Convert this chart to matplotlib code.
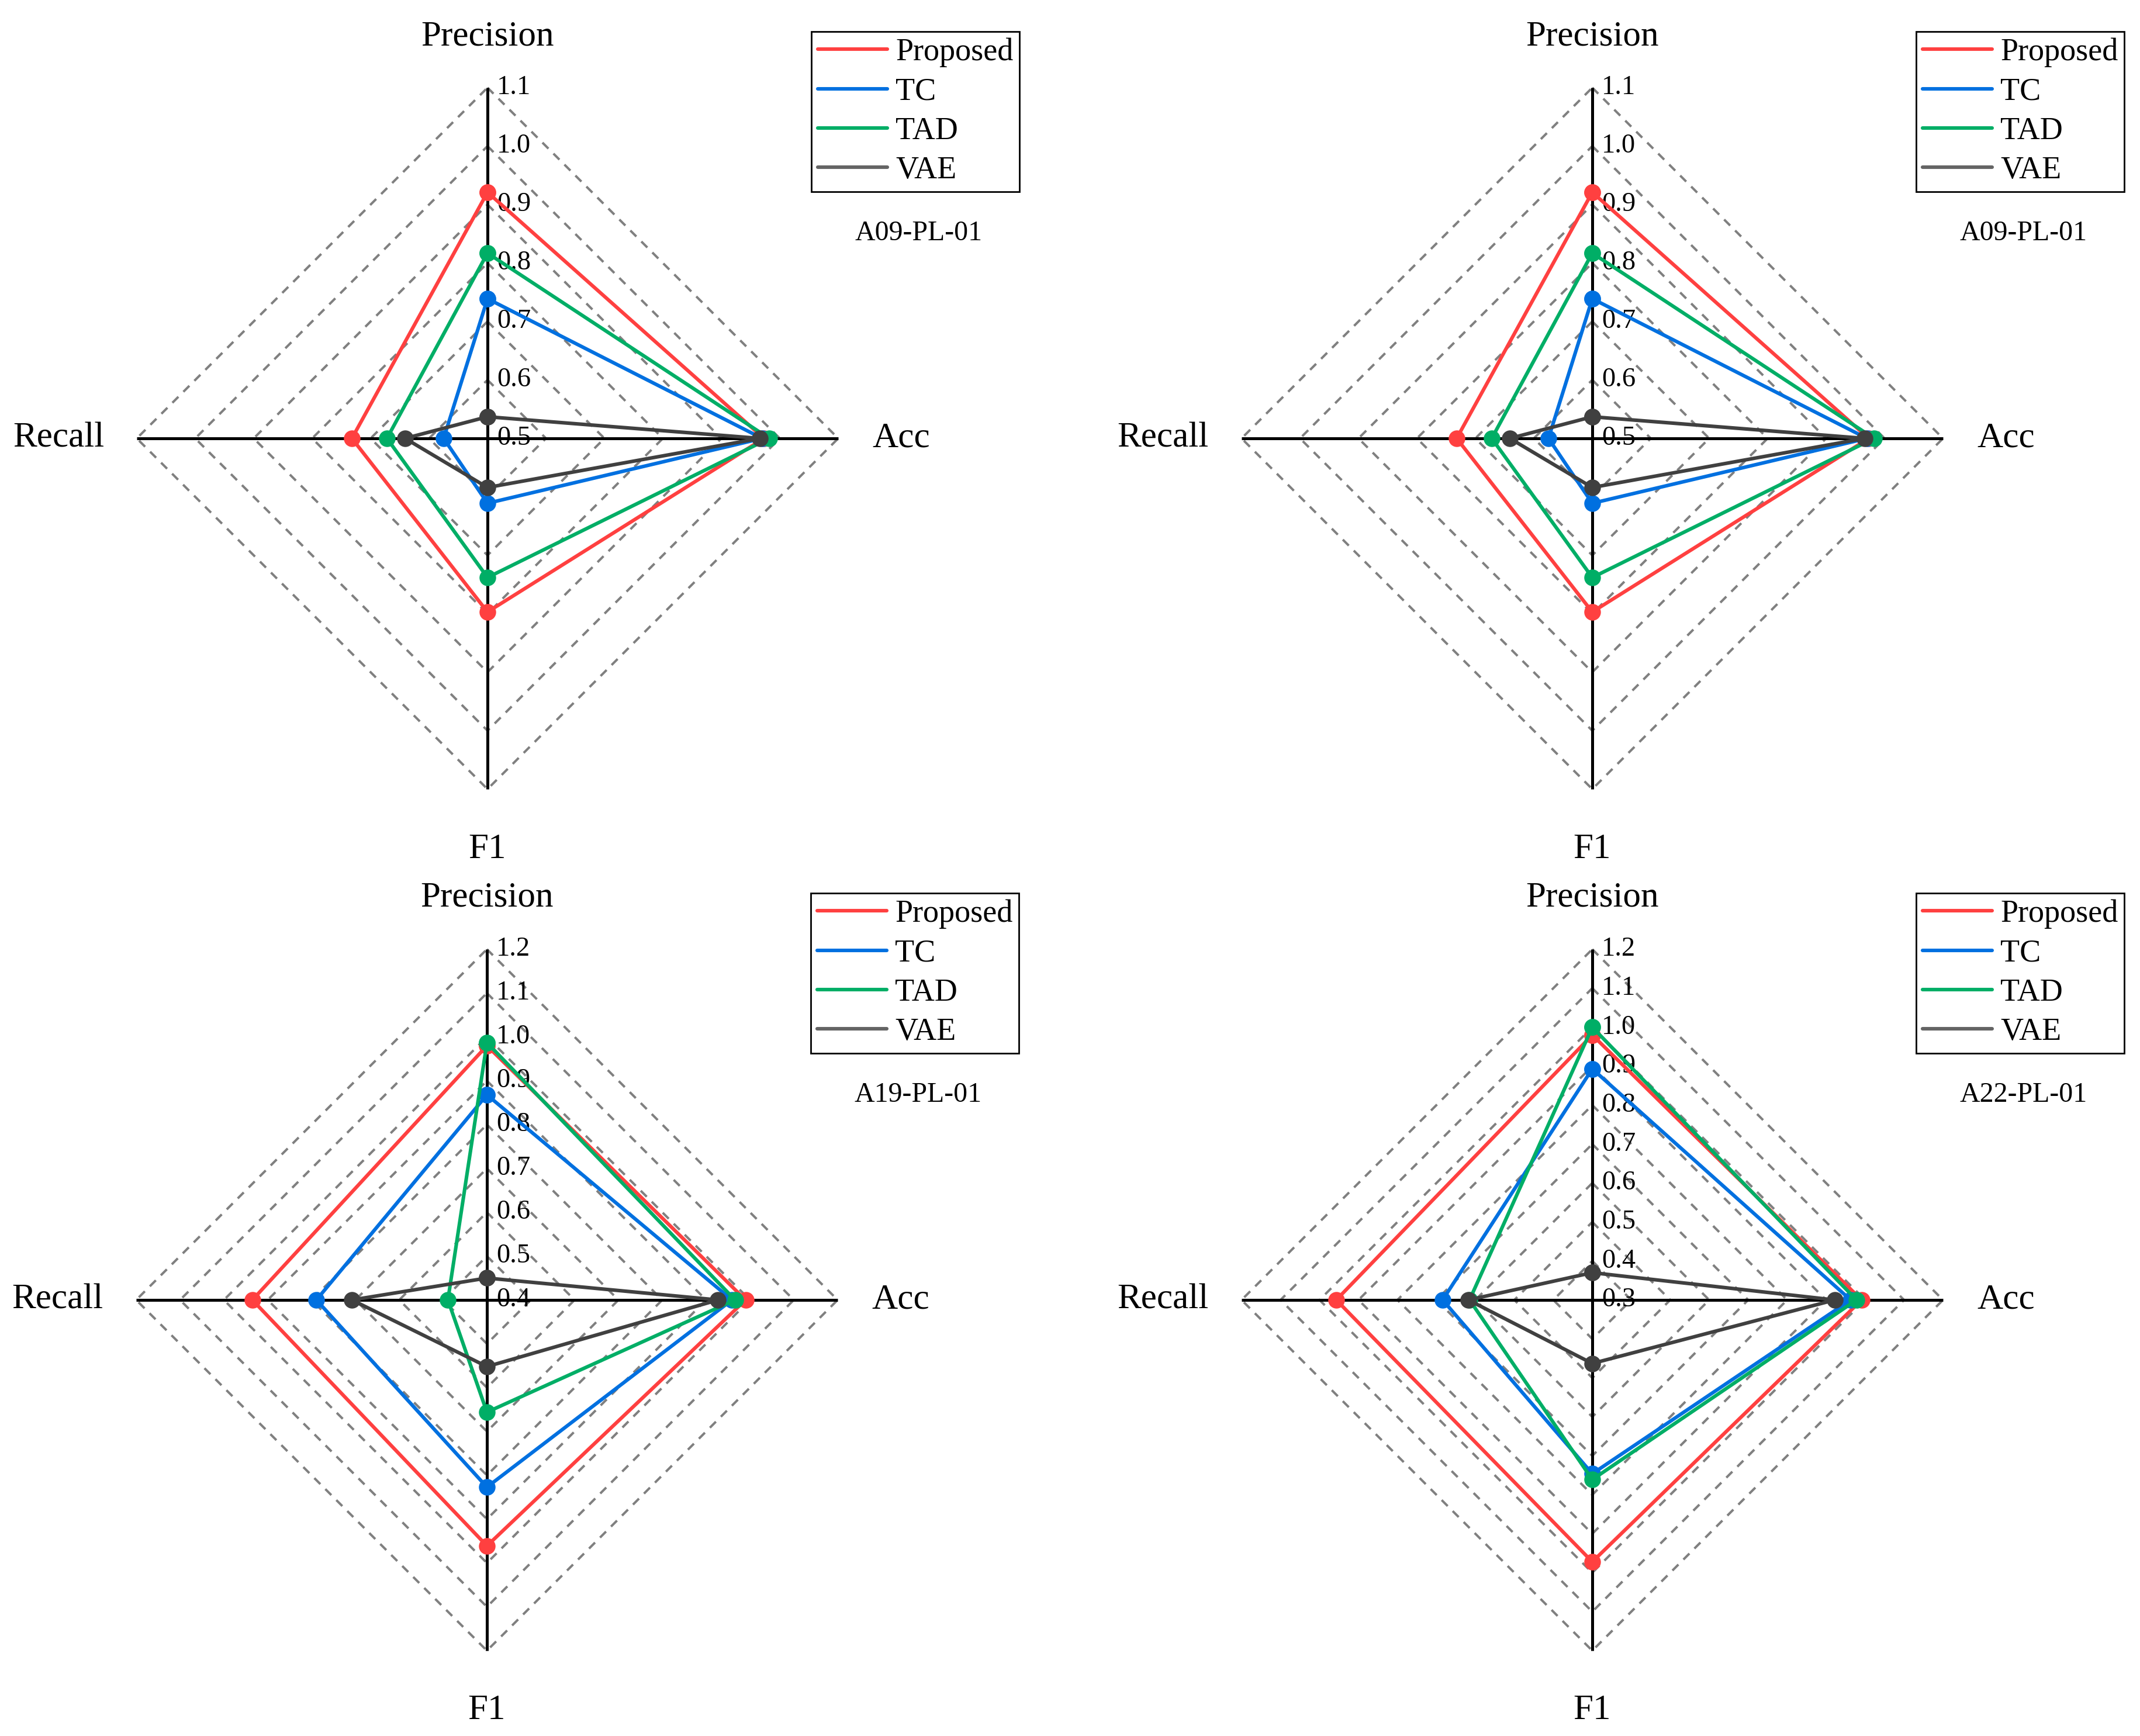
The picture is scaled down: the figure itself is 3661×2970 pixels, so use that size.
import numpy as np
import matplotlib
matplotlib.use("Agg")
import matplotlib.pyplot as plt
from matplotlib.lines import Line2D

plt.rcParams['font.family'] = ['Liberation Serif', 'DejaVu Serif']

# ---------------- data ----------------
categories = ['Precision', 'Acc', 'F1', 'Recall']   # clockwise from top
series_names = ['Proposed', 'TC', 'TAD', 'VAE']

panel_titles = ['A09-PL-01', 'A09-PL-01', 'A19-PL-01', 'A22-PL-01']

ticks_a09 = [0.5, 0.6, 0.7, 0.8, 0.9, 1.0, 1.1]
ticks_a19 = [0.4, 0.5, 0.6, 0.7, 0.8, 0.9, 1.0, 1.1, 1.2]
ticks_a22 = [0.3, 0.4, 0.5, 0.6, 0.7, 0.8, 0.9, 1.0, 1.1, 1.2]

# values ordered as categories: Precision, Acc, F1, Recall
a09_proposed = [0.921, 0.973, 0.797, 0.732]
a09_tc       = [0.739, 0.970, 0.611, 0.575]
a09_tad      = [0.817, 0.982, 0.738, 0.672]
a09_vae      = [0.537, 0.966, 0.584, 0.641]

a19_proposed = [0.980, 0.990, 0.961, 0.935]
a19_tc       = [0.868, 0.959, 0.827, 0.789]
a19_tad      = [0.987, 0.966, 0.656, 0.489]
a19_vae      = [0.450, 0.927, 0.552, 0.708]

a22_proposed = [0.980, 0.991, 0.972, 0.957]
a22_tc       = [0.893, 0.963, 0.746, 0.684]
a22_tad      = [1.000, 0.978, 0.761, 0.615]
a22_vae      = [0.370, 0.922, 0.463, 0.618]

panels_data = [
    (ticks_a09, [a09_proposed, a09_tc, a09_tad, a09_vae]),
    (ticks_a09, [a09_proposed, a09_tc, a09_tad, a09_vae]),
    (ticks_a19, [a19_proposed, a19_tc, a19_tad, a19_vae]),
    (ticks_a22, [a22_proposed, a22_tc, a22_tad, a22_vae]),
]

# ---------------- style ----------------
colors = ['#FF4040', '#0070E0', '#00AE66', '#404040']
legend_colors = ['#FF4040', '#0070E0', '#00AE66', '#646464']
angles = np.deg2rad([90, 0, -90, 180])

W_PX, H_PX = 3662, 2970
DPI = 100
R_PX = 600.0
HALF = 800.0
centers = [(834, 750), (2724, 750), (833, 2224), (2724, 2224)]

fig = plt.figure(figsize=(W_PX / DPI, H_PX / DPI), dpi=DPI)

for (cx, cy), title, (ticks, series) in zip(centers, panel_titles, panels_data):
    left = (cx - HALF) / W_PX
    bottom = 1 - (cy + HALF) / H_PX
    ax = fig.add_axes([left, bottom, 2 * HALF / W_PX, 2 * HALF / H_PX])
    lim = HALF / R_PX
    ax.set_xlim(-lim, lim)
    ax.set_ylim(-lim, lim)
    ax.axis('off')

    vmin, vmax = ticks[0], ticks[-1]

    # dashed diamond rings
    for lev in ticks[1:]:
        r = (lev - vmin) / (vmax - vmin)
        xs = r * np.cos(np.append(angles, angles[0]))
        ys = r * np.sin(np.append(angles, angles[0]))
        ax.plot(xs, ys, color='#808080', lw=2.9, dashes=(3.6, 3.0),
                zorder=1, clip_on=False)

    # black axes
    ax.plot([-1, 1], [0, 0], color='black', lw=3.6, zorder=2, clip_on=False,
            solid_capstyle='butt')
    ax.plot([0, 0], [-1, 1], color='black', lw=3.6, zorder=2, clip_on=False,
            solid_capstyle='butt')

    # tick labels on the Precision axis
    for lev in ticks:
        r = (lev - vmin) / (vmax - vmin)
        ax.text(16 / R_PX, r, f'{lev:.1f}', ha='left', va='center',
                fontsize=33.5, zorder=2.5, clip_on=False)

    # data polygons
    for k, vals in enumerate(series):
        r = (np.array(vals) - vmin) / (vmax - vmin)
        xs = r * np.cos(angles)
        ys = r * np.sin(angles)
        ax.plot(np.append(xs, xs[0]), np.append(ys, ys[0]), color=colors[k],
                lw=4.4, marker='o', markersize=20.5, markeredgewidth=0,
                zorder=3 + k, clip_on=False)

    # category labels
    ax.text(0, 673 / R_PX, categories[0], ha='center', va='baseline',
            fontsize=44, clip_on=False)
    ax.text(658 / R_PX, 0, categories[1], ha='left', va='center',
            fontsize=44, clip_on=False)
    ax.text(0, -675 / R_PX, categories[2], ha='center', va='top',
            fontsize=44, clip_on=False)
    ax.text(-656 / R_PX, 0, categories[3], ha='right', va='center',
            fontsize=44, clip_on=False)

    # panel title
    ax.text(738 / R_PX, 351 / R_PX, title, ha='center', va='center',
            fontsize=34.5, clip_on=False)

    # legend
    handles = [Line2D([0], [0], color=c, lw=4.4, solid_capstyle='round')
               for c in legend_colors]
    leg = ax.legend(handles, series_names, loc='upper left',
                    bbox_to_anchor=(554 / R_PX, 696 / R_PX),
                    bbox_transform=ax.transData, borderaxespad=0,
                    fontsize=39, frameon=True, fancybox=False,
                    edgecolor='black', framealpha=1, borderpad=0.2,
                    handlelength=2.2, handletextpad=0.26, labelspacing=0.31)
    leg.get_frame().set_linewidth(2.0)

fig.savefig('out.png', dpi=DPI, facecolor='white')
